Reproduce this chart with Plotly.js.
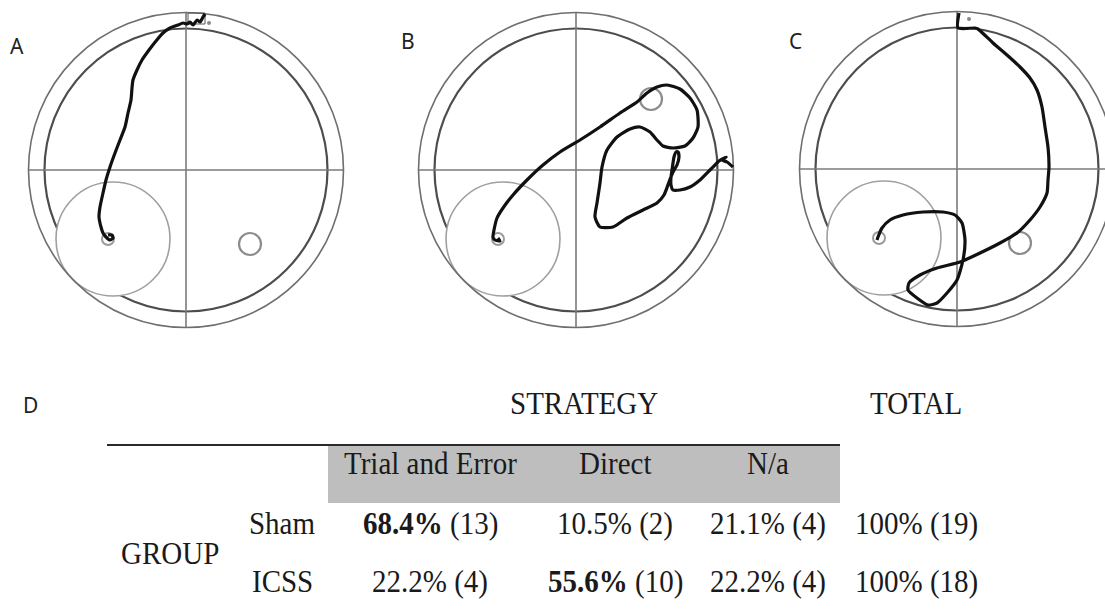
<!DOCTYPE html>
<html>
<head>
<meta charset="utf-8">
<script src="https://cdn.plot.ly/plotly-3.0.1.min.js"></script>
<style>
  html, body { margin: 0; padding: 0; background: #fff; }
  #chart { width: 1105px; height: 616px; }
  /* the table typeface is set slightly tall and narrow */
  .table-text { transform-box: fill-box; transform-origin: center; transform: scaleY(1.08); }
</style>
</head>
<body>
<div id="chart"></div>
<script>
// ---- Swim paths (pool-centred coordinates, x to the right, y upward) ----
const pathAx = [19, 17, 14, 11, 7, 4, 1, -3, -8, -16, -23, -30, -37, -44, -49, -53, -54, -55, -58, -61, -66, -71, -76, -80, -83, -86, -87, -85, -83, -80, -76, -73, -74, -78];
const pathAy = [156, 153, 148, 150, 145, 148, 146, 147, 145, 142, 137, 129, 120, 110, 100, 90, 82, 70, 57, 43, 30, 17, 3, -10, -23, -37, -47, -57, -63, -67, -70, -68, -65, -65];

const pathBx = [157, 151, 146, 150, 143, 139, 134, 124, 114, 104, 97, 95, 95, 96, 97, 98, 100, 102, 103, 101, 97, 93, 88, 81, 67, 51, 37, 24, 19, 21, 24, 26, 31, 41, 54, 64, 74, 81, 87, 97, 109, 117, 122, 121, 114, 104, 91, 81, 71, 61, 44, 24, 4, -16, -33, -49, -63, -73, -79, -82, -83, -81, -76, -78];
const pathBy = [3, 8, 10, 13, 9, 5, 0, -10, -17, -20, -20, -15, -7, 0, 7, 13, 18, 18, 13, 5, -2, -12, -25, -33, -40, -48, -57, -57, -47, -33, -13, 3, 20, 33, 41, 43, 38, 30, 24, 22, 24, 32, 43, 60, 72, 81, 85, 83, 77, 68, 57, 43, 30, 18, 5, -10, -25, -38, -48, -60, -67, -70, -71, -68];

const pathCx = [2, 1, 18, 21, 36, 50, 63, 73, 80, 85, 88, 91, 92, 91, 90, 83, 73, 60, 43, 23, 3, -20, -37, -48, -49, -40, -29, -20, -10, 0, 6, 8, 5, -2, -14, -34, -54, -67, -75, -79, -80];
const pathCy = [156, 141, 141, 140, 126, 114, 102, 91, 79, 62, 42, 22, 2, -11, -24, -38, -51, -64, -74, -84, -93, -99, -106, -114, -121, -129, -136, -134, -124, -111, -91, -71, -54, -46, -43, -43, -46, -51, -59, -68, -71];

// Hidden platform position in each trial
const platformX = [64, 75, 63];
const platformY = [-74, 71, -74];

// Start markers
const startDotX = [23, null, 12];
const startDotY = [147, null, 150];

// ---- Strategy table ----
const strategies = ['Trial and Error', 'Direct', 'N/a'];
const groups = ['Sham', 'ICSS'];
const shamPct = [68.4, 10.5, 21.1];
const shamN = [13, 2, 4];
const icssPct = [22.2, 55.6, 22.2];
const icssN = [4, 10, 4];
const totalPct = [100, 100];
const totalN = [19, 18];

// ---- Page geometry ----
const W = 1105, H = 616;
const R_OUT = 157.5, R_IN = 141.5;     // pool wall and inner annulus
const ZONE = { x: -73, y: -69, r: 57 }; // target zone
const GOAL = { x: -78, y: -69, r: 6 };  // goal ring inside the zone
const PLAT_R = 11;

const panels = [
  { id: '',  cx: 186, cy: 170, left: 0,   right: 370,  px: pathAx, py: pathAy, label: 'A', lx: 17,  ly: 46 },
  { id: '2', cx: 576, cy: 170, left: 370, right: 740,  px: pathBx, py: pathBy, label: 'B', lx: 408, ly: 41 },
  { id: '3', cx: 957, cy: 169, left: 740, right: 1105, px: pathCx, py: pathCy, label: 'C', lx: 795, ly: 41 }
];
const PANEL_H = 340;

const traces = [];
const shapes = [];
const annotations = [];
const layout = {
  width: W, height: H,
  margin: { l: 0, r: 0, t: 0, b: 0 },
  paper_bgcolor: '#fff', plot_bgcolor: 'rgba(0,0,0,0)',
  showlegend: false,
  shapes: shapes, annotations: annotations
};

function hiddenAxis(domain, range) {
  return { domain: domain, range: range, visible: false, showgrid: false, zeroline: false, fixedrange: true };
}

const labelFont = { family: 'Noto Sans, Open Sans, sans-serif', size: 21, color: '#222' };

panels.forEach((p, i) => {
  const xa = 'xaxis' + p.id, ya = 'yaxis' + p.id;
  const xr = 'x' + p.id, yr = 'y' + p.id;
  layout[xa] = hiddenAxis([p.left / W, p.right / W], [p.left - p.cx, p.right - p.cx]);
  layout[ya] = hiddenAxis([1 - PANEL_H / H, 1], [p.cy - PANEL_H, p.cy]);

  const circ = (x, y, r, line, fill) => ({
    type: 'circle', xref: xr, yref: yr, layer: 'below',
    x0: x - r, x1: x + r, y0: y - r, y1: y + r,
    line: line, fillcolor: fill || 'rgba(0,0,0,0)'
  });
  const seg = (x0, y0, x1, y1, line) => ({
    type: 'line', xref: xr, yref: yr, layer: 'below', x0: x0, y0: y0, x1: x1, y1: y1, line: line
  });

  shapes.push(circ(0, 0, R_IN, { color: '#4d4d4d', width: 2.2 }));
  shapes.push(seg(-R_OUT, 0, R_OUT, 0, { color: '#7a7a7a', width: 1.6 }));
  shapes.push(seg(0, -R_OUT, 0, R_OUT, { color: '#7a7a7a', width: 1.6 }));
  shapes.push(circ(ZONE.x, ZONE.y, ZONE.r, { color: '#a0a0a0', width: 1.6 }, '#ffffff'));
  shapes.push(circ(0, 0, R_OUT, { color: '#6e6e6e', width: 1.6 }));
  shapes.push(circ(GOAL.x, GOAL.y, GOAL.r, { color: '#9a9a9a', width: 2 }));
  shapes.push(circ(platformX[i], platformY[i], PLAT_R, { color: '#8c8c8c', width: 2.2 }));

  if (i === 0) {
    shapes.push({ type: 'rect', xref: xr, yref: yr, layer: 'below',
      x0: 2, x1: 19, y0: 146, y1: 157, line: { color: '#555', width: 1 } });
  }

  traces.push({
    type: 'scatter', mode: 'lines', xaxis: xr, yaxis: yr,
    x: p.px, y: p.py,
    line: { color: '#111', width: 3.2, shape: 'spline', smoothing: 0.6 },
    hoverinfo: 'skip'
  });
  if (startDotX[i] !== null) {
    traces.push({
      type: 'scatter', mode: 'markers', xaxis: xr, yaxis: yr,
      x: [startDotX[i]], y: [startDotY[i]],
      marker: { color: '#888', size: 4 }, hoverinfo: 'skip'
    });
  }

  annotations.push({
    xref: 'paper', yref: 'paper', x: p.lx / W, y: 1 - p.ly / H,
    xanchor: 'center', yanchor: 'middle', showarrow: false,
    text: p.label, font: labelFont
  });
});

// ---- Table area (pixel-like axis for the lower band) ----
const TABLE_TOP = 370;
layout.xaxis4 = hiddenAxis([0, 1], [0, W]);
layout.yaxis4 = hiddenAxis([0, 1 - TABLE_TOP / H], [H, TABLE_TOP]);

const serif = { family: 'Liberation Serif, Times New Roman, serif', size: 29, color: '#1a1a1a' };
const tx = (x, y, text) => annotations.push({
  xref: 'x4', yref: 'y4', x: x, y: y, xanchor: 'center', yanchor: 'middle',
  showarrow: false, text: text, font: serif
});

// column and row placement
const colX = [430, 615, 768];
const totalX = 916;
const rowY = [523, 581];
const headerY = 463;

shapes.push({ type: 'rect', xref: 'x4', yref: 'y4', layer: 'below',
  x0: 328, x1: 840, y0: 446, y1: 503, fillcolor: '#bebebe', line: { width: 0 } });
shapes.push({ type: 'line', xref: 'x4', yref: 'y4', layer: 'above',
  x0: 107, x1: 840, y0: 445, y1: 445, line: { color: '#2a2a2a', width: 2 } });

annotations.push({
  xref: 'x4', yref: 'y4', x: 30, y: 405, xanchor: 'center', yanchor: 'middle', showarrow: false,
  text: 'D', font: labelFont
});
tx(584, 403, 'STRATEGY');
tx(totalX, 403, 'TOTAL');
strategies.forEach((s, j) => tx(colX[j], headerY, s));
tx(170, 553, 'GROUP');

const rows = [[shamPct, shamN], [icssPct, icssN]];
rows.forEach(([pct, n], r) => {
  tx(282, rowY[r], groups[r]);
  const best = pct.indexOf(Math.max(...pct));
  pct.forEach((v, j) => {
    const share = v.toFixed(1) + '%';
    const label = (j === best ? '<b>' + share + '</b>' : share) + ' (' + n[j] + ')';
    tx(colX[j], rowY[r], label);
  });
  tx(totalX, rowY[r], totalPct[r] + '% (' + totalN[r] + ')');
});

Plotly.newPlot('chart', traces, layout, { staticPlot: true, displayModeBar: false }).then(gd => {
  gd.querySelectorAll('.annotation-text').forEach(t => {
    if ((t.style.fontFamily || '').indexOf('Serif') !== -1) t.classList.add('table-text');
  });
});
</script>
</body>
</html>
